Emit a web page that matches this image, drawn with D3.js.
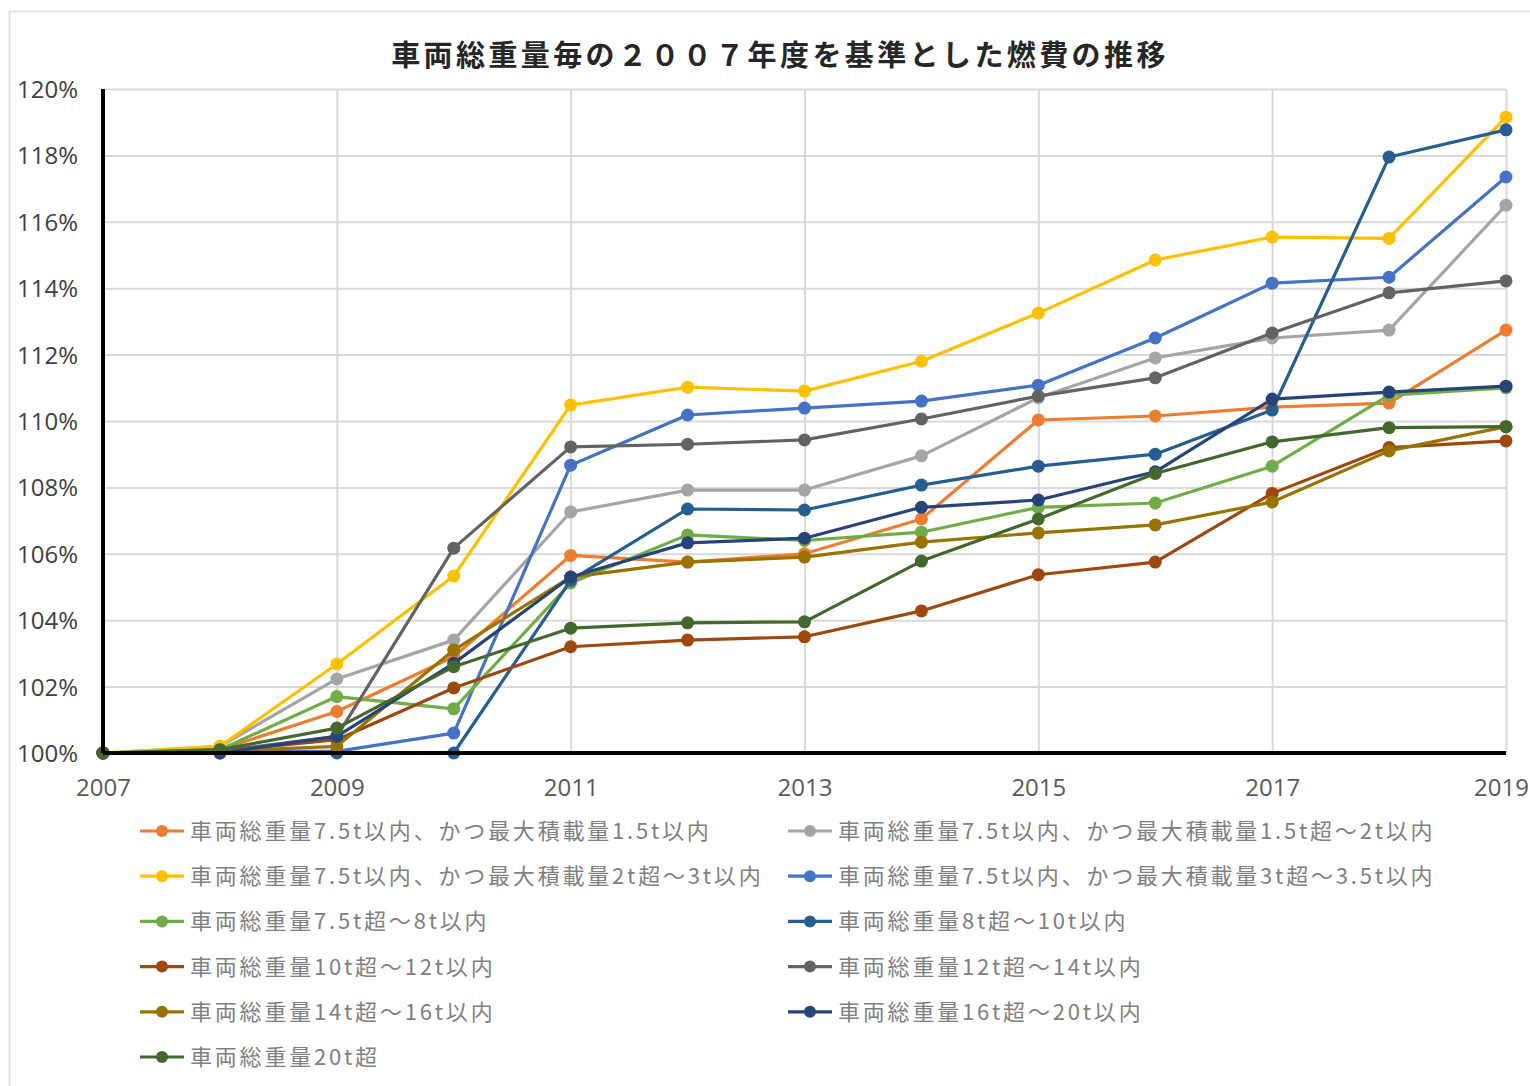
<!DOCTYPE html>
<html>
<head>
<meta charset="utf-8">
<script src="https://cdn.jsdelivr.net/npm/d3@7"></script>
<style>
  html, body { margin: 0; padding: 0; background: #ffffff; }
  svg { display: block; font-family: "Noto Sans CJK JP", "Noto Sans", sans-serif; }
</style>
</head>
<body>
<svg id="chart" width="1530" height="1086"></svg>
<script>
// 年度
const years = [2007, 2008, 2009, 2010, 2011, 2012, 2013, 2014, 2015, 2016, 2017, 2018, 2019];
const xTickYears = [2007, 2009, 2011, 2013, 2015, 2017, 2019];
const yTicks = [100, 102, 104, 106, 108, 110, 112, 114, 116, 118, 120];

const seriesNames = [
  "車両総重量7.5t以内、かつ最大積載量1.5t以内",
  "車両総重量7.5t以内、かつ最大積載量1.5t超～2t以内",
  "車両総重量7.5t以内、かつ最大積載量2t超～3t以内",
  "車両総重量7.5t以内、かつ最大積載量3t超～3.5t以内",
  "車両総重量7.5t超～8t以内",
  "車両総重量8t超～10t以内",
  "車両総重量10t超～12t以内",
  "車両総重量12t超～14t以内",
  "車両総重量14t超～16t以内",
  "車両総重量16t超～20t以内",
  "車両総重量20t超"
];

const seriesColors = ["#ED7D31", "#A5A5A5", "#FFC000", "#4472C4", "#70AD47", "#255E91",
                      "#9E480E", "#636363", "#997300", "#264478", "#43682B"];

// 2007年度 = 100% とした燃費 (%)
const gvw75_load15     = [100, 100.1, 101.25, 102.9, 105.95, 105.75, 106.0, 107.05, 110.03, 110.15, 110.42, 110.54, 112.74];
const gvw75_load15to2  = [100, 100.2, 102.23, 103.4, 107.26, 107.92, 107.92, 108.95, 110.7, 111.9, 112.5, 112.74, 116.5];
const gvw75_load2to3   = [100, 100.2, 102.68, 105.33, 110.48, 111.02, 110.9, 111.8, 113.25, 114.85, 115.54, 115.5, 119.15];
const gvw75_load3to35  = [100, 100.05, 100.05, 100.6, 108.67, 110.18, 110.39, 110.6, 111.08, 112.5, 114.15, 114.33, 117.35];
const gvw75to8         = [100, 100.1, 101.7, 101.33, 105.12, 106.57, 106.4, 106.65, 107.4, 107.53, 108.64, 110.78, 111.0];
const gvw8to10         = [100, 100, 100, 100, 105.2, 107.35, 107.32, 108.07, 108.64, 109.0, 110.33, 117.95, 118.77];
const gvw10to12        = [100, 100.05, 100.4, 101.96, 103.2, 103.4, 103.5, 104.28, 105.37, 105.75, 107.82, 109.2, 109.4];
const gvw12to14        = [100, 100.05, 100.5, 106.17, 109.22, 109.3, 109.43, 110.06, 110.75, 111.3, 112.65, 113.86, 114.22];
const gvw14to16        = [100, 100.05, 100.2, 103.1, 105.3, 105.75, 105.9, 106.35, 106.63, 106.87, 107.56, 109.1, 109.83];
const gvw16to20        = [100, 100, 100.5, 102.7, 105.3, 106.33, 106.47, 107.4, 107.62, 108.47, 110.66, 110.87, 111.05];
const gvwOver20        = [100, 100.1, 100.75, 102.6, 103.76, 103.92, 103.95, 105.78, 107.05, 108.42, 109.37, 109.8, 109.83];

const seriesValues = [gvw75_load15, gvw75_load15to2, gvw75_load2to3, gvw75_load3to35, gvw75to8,
                      gvw8to10, gvw10to12, gvw12to14, gvw14to16, gvw16to20, gvwOver20];

const series = seriesNames.map((name, i) => ({
  name, color: seriesColors[i],
  points: years.map((yr, j) => ({ year: yr, value: seriesValues[i][j] }))
}));

const svg = d3.select("#chart");

// 外枠
svg.append("rect")
  .attr("x", 9.5).attr("y", 11.5).attr("width", 1540).attr("height", 1100)
  .attr("fill", "#ffffff").attr("stroke", "#e3e3e3").attr("stroke-width", 2);

// タイトル
svg.append("text")
  .attr("x", 780).attr("y", 66)
  .attr("text-anchor", "middle")
  .attr("font-size", 29).attr("font-weight", "bold")
  .attr("letter-spacing", 3.4)
  .attr("fill", "#262626")
  .text("車両総重量毎の２００７年度を基準とした燃費の推移");

const plot = { left: 103, right: 1506, top: 89, bottom: 753 };

const x = d3.scaleLinear().domain([2007, 2019]).range([plot.left, plot.right]);
const y = d3.scaleLinear().domain([100, 120]).range([plot.bottom, plot.top]);

// 目盛線（横）
const yGrid = d3.axisLeft(y).tickValues(yTicks).tickSize(-(plot.right - plot.left)).tickFormat("");
svg.append("g")
  .attr("transform", `translate(${plot.left},0)`)
  .call(yGrid)
  .call(g => g.select(".domain").remove())
  .call(g => g.selectAll("line").attr("stroke", "#d9d9d9").attr("stroke-width", 2));

// 目盛線（縦）
const xGrid = d3.axisBottom(x).tickValues(xTickYears).tickSize(-(plot.bottom - plot.top)).tickFormat("");
svg.append("g")
  .attr("transform", `translate(0,${plot.bottom})`)
  .call(xGrid)
  .call(g => g.select(".domain").remove())
  .call(g => g.selectAll("line").attr("stroke", "#d9d9d9").attr("stroke-width", 2));

// 縦軸ラベル
const yAxis = d3.axisLeft(y).tickValues(yTicks).tickSize(0).tickPadding(25).tickFormat(d => d + "%");
svg.append("g")
  .attr("transform", `translate(${plot.left},0)`)
  .call(yAxis)
  .call(g => g.select(".domain").remove())
  .call(g => g.selectAll("text")
    .attr("font-size", 24).attr("fill", "#404040")
    .attr("font-family", "'Open Sans', 'Noto Sans', sans-serif")
    .attr("dy", "0.35em"));

// 横軸ラベル（右端のラベルは画面内に収める）
const xAxis = d3.axisBottom(x).tickValues(xTickYears).tickSize(0).tickPadding(26).tickFormat(d3.format("d"));
svg.append("g")
  .attr("transform", `translate(0,${plot.bottom})`)
  .call(xAxis)
  .call(g => g.select(".domain").remove())
  .call(g => g.selectAll("text")
    .attr("font-size", 24).attr("fill", "#595959")
    .attr("font-family", "'Open Sans', 'Noto Sans', sans-serif")
    .attr("dx", d => d === 2019 ? -5 : 0));

// 系列線
const line = d3.line().x(d => x(d.year)).y(d => y(d.value));

const seriesG = svg.append("g");
series.forEach(s => {
  const g = seriesG.append("g");
  g.append("path")
    .datum(s.points)
    .attr("d", line)
    .attr("fill", "none")
    .attr("stroke", s.color)
    .attr("stroke-width", 3.2)
    .attr("stroke-linejoin", "round");
  g.selectAll("circle")
    .data(s.points)
    .join("circle")
    .attr("cx", d => x(d.year))
    .attr("cy", d => y(d.value))
    .attr("r", 6.5)
    .attr("fill", s.color);
});

// 軸線
svg.append("line")
  .attr("x1", plot.left).attr("x2", plot.left)
  .attr("y1", plot.top).attr("y2", plot.bottom)
  .attr("stroke", "#000").attr("stroke-width", 4);
svg.append("line")
  .attr("x1", plot.left).attr("x2", plot.right)
  .attr("y1", plot.bottom).attr("y2", plot.bottom)
  .attr("stroke", "#000").attr("stroke-width", 4);

// 凡例
const legend = svg.append("g");
const legendCols = [140, 788];
const legendTop = 831, legendStep = 45.2;
series.forEach((s, i) => {
  const col = i % 2, row = Math.floor(i / 2);
  const lx = legendCols[col], ly = legendTop + row * legendStep;
  const g = legend.append("g").attr("transform", `translate(${lx},${ly})`);
  g.append("line").attr("x1", 0).attr("x2", 44).attr("y1", 0).attr("y2", 0)
    .attr("stroke", s.color).attr("stroke-width", 3.2);
  g.append("circle").attr("cx", 22).attr("cy", 0).attr("r", 6).attr("fill", s.color);
  g.append("text")
    .attr("x", 50).attr("y", 0).attr("dy", "0.36em")
    .attr("font-size", 22).attr("letter-spacing", 2.8).attr("fill", "#808080")
    .text(s.name);
});
</script>
</body>
</html>
